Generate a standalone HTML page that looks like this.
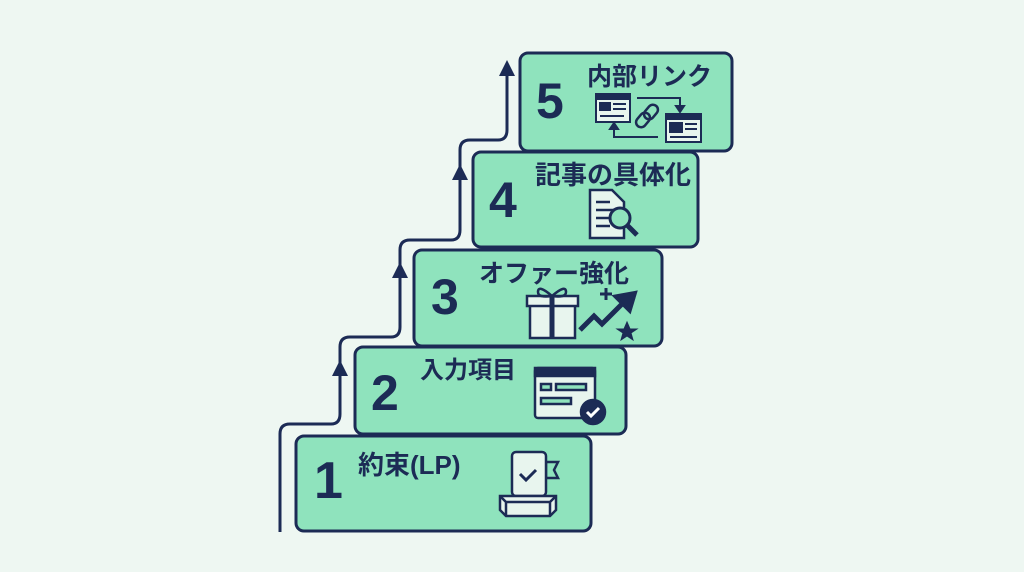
<!DOCTYPE html>
<html><head><meta charset="utf-8"><style>
html,body{margin:0;padding:0;background:#eef7f2;}
svg{display:block}
text{font-family:"Liberation Sans","Noto Sans CJK JP",sans-serif;fill:#1c2b55;font-weight:bold}
</style></head><body>
<svg width="1024" height="572" viewBox="0 0 1024 572" xmlns="http://www.w3.org/2000/svg">
<rect width="1024" height="572" fill="#eef7f2"/>
<g fill="none" stroke="#1c2b55" stroke-width="3">
<path d="M280 532 V434 Q280 424 290 424 H331 Q340 424 340 414 V347 Q340 337 350 337 H391 Q400 337 400 327 V250 Q400 240 410 240 H451 Q460 240 460 230 V150 Q460 140 470 140 H498 Q507 140 507 130 V70"/>
</g>
<g fill="#1c2b55">
<polygon points="340,360 332,376 348,376"/>
<polygon points="400,262 392,278 408,278"/>
<polygon points="460,164 452,180 468,180"/>
<polygon points="507,60 499,76 515,76"/>
</g>
<g fill="#8fe3bd" stroke="#1c2b55" stroke-width="3">
<rect x="296" y="436" width="295" height="95" rx="8"/>
<rect x="355" y="347" width="271" height="87" rx="8"/>
<rect x="414" y="250" width="248" height="96" rx="8"/>
<rect x="473" y="152" width="225" height="95" rx="8"/>
<rect x="520" y="53" width="212" height="98" rx="8"/>
</g>
<text x="314" y="498" font-size="52">1</text>
<text x="358" y="474" font-size="26">約束(LP)</text>
<text x="371" y="410" font-size="50">2</text>
<text x="420" y="378" font-size="24">入力項目</text>
<text x="431" y="314" font-size="50">3</text>
<text x="479" y="282" font-size="25">オファー強化</text>
<text x="489" y="217" font-size="50">4</text>
<text x="535" y="184" font-size="26">記事の具体化</text>
<text x="536" y="118" font-size="50">5</text>
<text x="587" y="85" font-size="25">内部リンク</text>
<!-- icon 1 -->
<g stroke="#1c2b55" stroke-width="2.5" fill="#e8f5ee">
<path d="M546 462 h12 l-4 8 l4 8 h-12z" fill="#8fe3bd"/>
<rect x="512" y="452" width="34" height="44" rx="4"/>
<path d="M500 496 h56 v14 l-6 6 h-44 l-6-6z"/>
<path d="M500 496 l6 6 h44 l6-6 M506 502 v14 M550 502 v14" fill="none"/>
<path d="M520 474 l6 6 l10 -10" fill="none" stroke-width="3"/>
</g>
<!-- icon 2 -->
<g stroke="#1c2b55" stroke-width="2.5">
<rect x="535" y="368" width="60" height="50" rx="3" fill="#e8f5ee"/>
<rect x="535" y="368" width="60" height="8" fill="#1c2b55"/>
<rect x="541" y="384" width="10" height="6" fill="#8fe3bd"/>
<rect x="556" y="384" width="30" height="6" fill="#8fe3bd"/>
<rect x="541" y="398" width="30" height="6" fill="#8fe3bd"/>
<circle cx="593" cy="412" r="12" fill="#1c2b55"/>
<path d="M587 412 l4 4 l8 -8" fill="none" stroke="#fff" stroke-width="3"/>
</g>
<!-- icon 3 -->
<g stroke="#1c2b55" stroke-width="2.5">
<rect x="530" y="302" width="45" height="36" fill="#e8f5ee"/>
<rect x="527" y="296" width="51" height="10" fill="#e8f5ee"/>
<path d="M552 296 v42" stroke-width="5"/>
<path d="M552 296 q-14 -12 -14 -4 q0 6 14 4 q14 -12 14 -4 q0 6 -14 4" fill="none"/>
<path d="M580 330 l14 -14 l8 8 l20 -20" fill="none" stroke-width="5"/>
<polygon points="614,296 636,292 630,312" fill="#1c2b55"/>
<path d="M600 294 h12 M606 288 v12" stroke-width="3"/>
<polygon points="627,322 630,329 637,329 631,333 633,340 627,336 621,340 623,333 617,329 624,329" fill="#1c2b55" stroke-width="1"/>
</g>
<!-- icon 4 -->
<g stroke="#1c2b55" stroke-width="2.5">
<path d="M590 190 h22 l12 12 v36 h-34z" fill="#e8f5ee"/>
<path d="M596 202 h14 M596 210 h18 M596 218 h14 M596 226 h14" fill="none"/>
<circle cx="620" cy="218" r="10" fill="#8fe3bd" stroke-width="3"/>
<path d="M627 225 l10 10" stroke-width="5"/>
</g>
<!-- icon 5 -->
<g stroke="#1c2b55" stroke-width="2">
<rect x="596" y="94" width="34" height="28" fill="#e8f5ee"/>
<rect x="596" y="94" width="34" height="5" fill="#1c2b55"/>
<rect x="600" y="103" width="10" height="7" fill="#1c2b55"/>
<path d="M613 104 h13 M613 109 h13 M600 116 h24"/>
<rect x="666" y="114" width="35" height="28" fill="#e8f5ee"/>
<rect x="666" y="114" width="35" height="5" fill="#1c2b55"/>
<rect x="670" y="123" width="12" height="9" fill="#1c2b55"/>
<path d="M685 124 h12 M685 129 h12 M670 137 h27"/>
<path d="M637 98 h43 v10" fill="none"/>
<polygon points="676,106 684,106 680,112" fill="#1c2b55"/>
<path d="M658 137 h-44 v-10" fill="none"/>
<polygon points="610,129 618,129 614,123" fill="#1c2b55"/>
<rect x="638" y="112" width="10" height="16" rx="5" transform="rotate(40 643 120)" fill="none" stroke-width="2.5"/>
<rect x="646" y="104" width="10" height="16" rx="5" transform="rotate(40 651 112)" fill="none" stroke-width="2.5"/>
</g>
</svg>
</body></html>
